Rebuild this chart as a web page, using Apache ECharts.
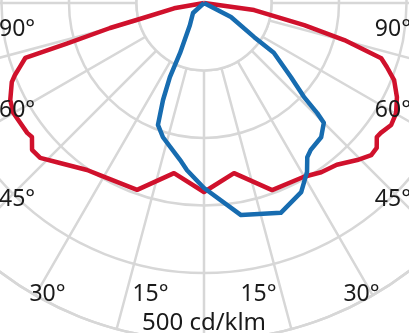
<!DOCTYPE html>
<html><head><meta charset="utf-8">
<script src="https://cdn.jsdelivr.net/npm/echarts@6/dist/echarts.min.js"></script>
<style>html,body{margin:0;padding:0;background:#fff;overflow:hidden}#c{width:409px;height:333px}</style>
</head><body><div id="c"></div>
<script>
// ---- data (angle from nadir in degrees: left side positive, right side negative; intensity in cd/klm)
const radiusTicks = [0, 100, 200, 300, 400, 500];
const angleTicks = [-180, 180, 15];
const angleLabels = ['90°', '60°', '45°', '30°', '15°', '15°', '30°', '45°', '60°', '90°'];
const scaleLabel = '500 cd/klm';

const redAngles = [-90, -82, -77.6, -75.2, -72.7, -70.7, -67.9, -64, -60.2, -56.9, -53.7, -52.2, -50, -47.7, -44.3, -39.4, -34.7, -29.9, -20, -10, 0, 10, 19.7, 31.2, 35, 42, 46.6, 49.5, 52.1, 53.7, 60.1, 63.4, 67.6, 69.1, 70.8, 72.9, 73.5, 75.1, 76.2, 80, 90];
const redValues = [0, 75, 152, 215, 275, 287, 304, 318, 328, 331, 325, 324, 334, 335, 325, 310, 305, 297, 295, 256, 280, 256, 294, 298, 302, 319, 334, 335, 323, 325, 326, 321, 308, 300, 289, 277, 212, 144, 93, 45, 0];

const blueAngles = [-90, -62.6, -55.8, -54.5, -49.6, -46.8, -45.8, -45, -41.1, -36, -33.8, -31.4, -27.2, -20.1, -9.9, 0, 5.8, 8.7, 17, 20.7, 22.9, 24.7, 25.6, 32.5, 47.7, 90];
const blueValues = [0, 45, 90, 127, 169, 203, 234, 251, 264, 269, 275, 293, 315, 331, 319, 274, 249, 235, 208, 193, 156, 121, 82, 39, 22, 0];

// ---- layout / style
const CX = 204, CY = 3, R = 337.5;
const GRID = '#d7d7d7';
const FONT = '23px "Noto Sans", "Open Sans", sans-serif';
const FONT_SCALE = '24px "Noto Sans", "Open Sans", sans-serif';
const labelPos = [
  [-1, 29, 'left'], [-1, 110, 'left'], [-1, 199, 'left'], [47.5, 294, 'center'], [150.5, 294, 'center'],
  [258.5, 294, 'center'], [361.5, 294, 'center'], [411, 199, 'right'], [411, 110, 'right'], [411, 29, 'right']
];

const chart = echarts.init(document.getElementById('c'), null, {renderer: 'canvas'});
const gl = {color: GRID, width: 2.5};
const graphics = angleLabels.map((t, i) => ({
  type: 'text', x: labelPos[i][0], y: labelPos[i][1], z: 5,
  style: {text: t, font: FONT, fill: '#1a1a1a', align: labelPos[i][2], textAlign: labelPos[i][2], verticalAlign: 'middle', textVerticalAlign: 'middle'}
}));
graphics.push({
  type: 'text', x: CX, y: 323, z: 5,
  style: {text: scaleLabel, font: FONT_SCALE, fill: '#1a1a1a', align: 'center', textAlign: 'center', verticalAlign: 'middle', textVerticalAlign: 'middle'}
});
graphics.push({
  type: 'circle', z: 1,
  shape: {cx: CX, cy: CY, r: R * radiusTicks[1] / radiusTicks[radiusTicks.length - 1]},
  style: {fill: '#ffffff', stroke: GRID, lineWidth: 2.5}
});

chart.setOption({
  animation: false,
  polar: {center: [CX, CY], radius: R},
  angleAxis: {
    type: 'value', min: angleTicks[0], max: angleTicks[1], interval: angleTicks[2],
    startAngle: 90, clockwise: true, z: 0,
    axisLine: {show: true, lineStyle: gl}, axisTick: {show: false}, axisLabel: {show: false},
    splitLine: {show: true, lineStyle: gl}
  },
  radiusAxis: {
    type: 'value', min: radiusTicks[0], max: radiusTicks[radiusTicks.length - 1], interval: radiusTicks[1] - radiusTicks[0], z: 0,
    axisLine: {show: false}, axisTick: {show: false}, axisLabel: {show: false},
    splitLine: {show: true, lineStyle: gl}
  },
  graphic: {elements: graphics},
  series: [
    {type: 'line', coordinateSystem: 'polar', z: 3, symbol: 'none', clip: false,
     lineStyle: {color: '#d0112c', width: 4.5, join: 'round'},
     data: redValues.map((v, i) => [v, redAngles[i]])},
    {type: 'line', coordinateSystem: 'polar', z: 4, symbol: 'none', clip: false,
     lineStyle: {color: '#176cb0', width: 4.5, join: 'round'},
     data: blueValues.map((v, i) => [v, blueAngles[i]])}
  ]
});
</script></body></html>
